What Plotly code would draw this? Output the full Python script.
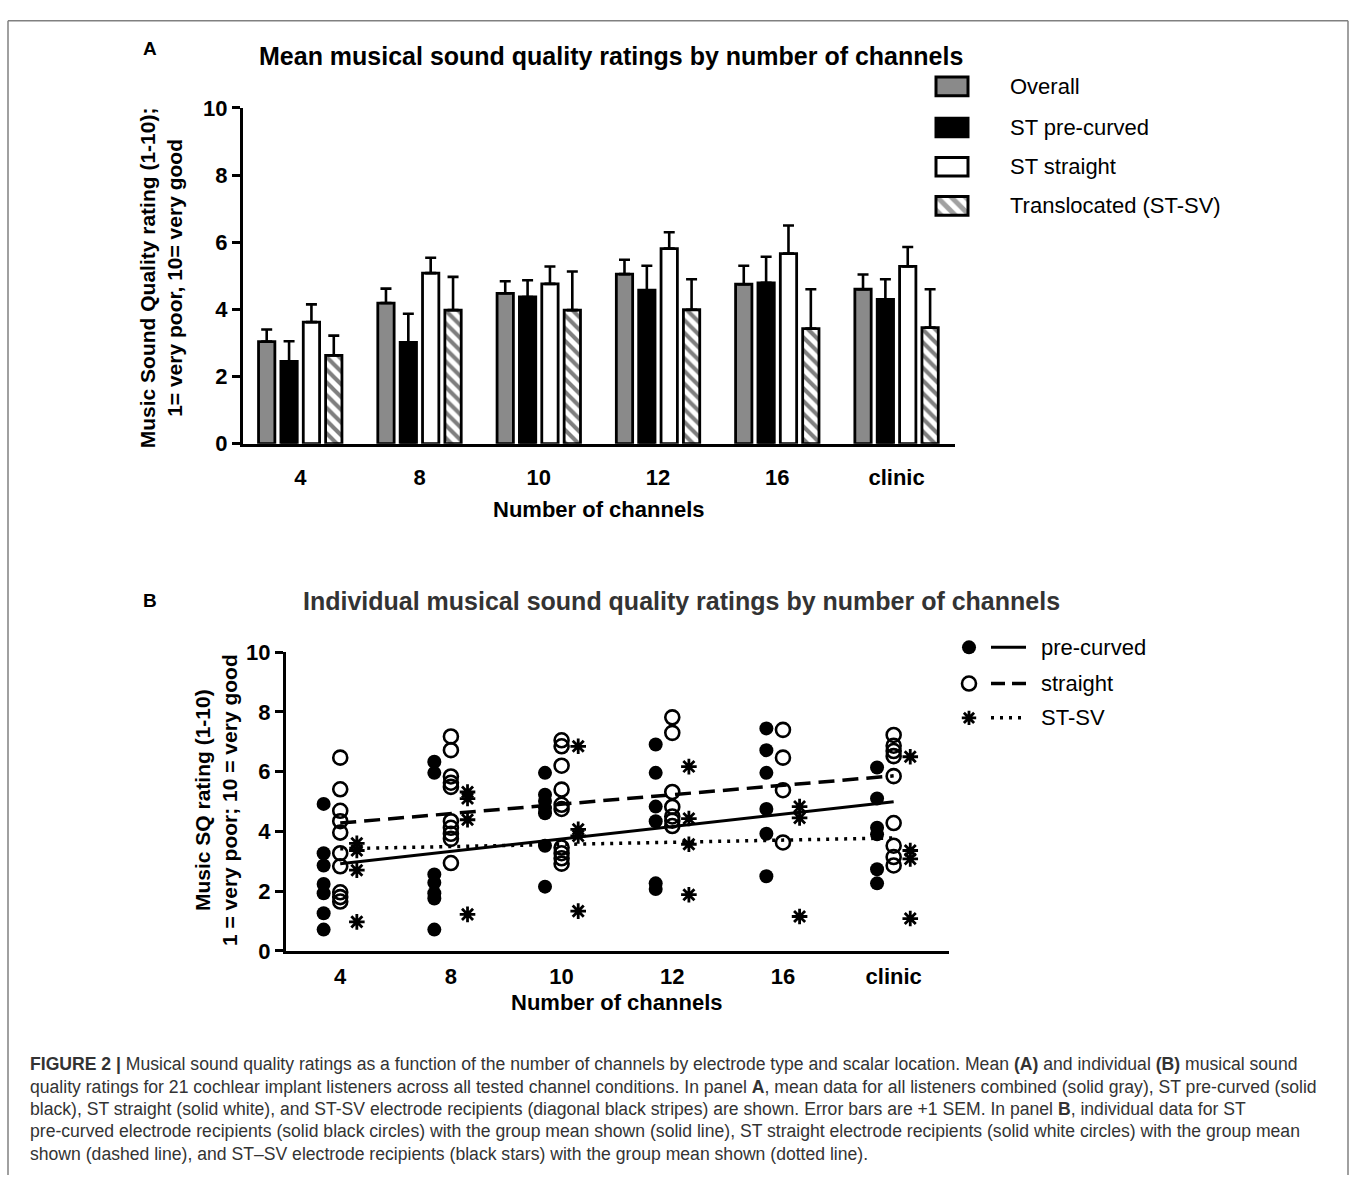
import plotly.graph_objects as go

W, H = 1357, 1188
FONT = "Liberation Sans, Arial, Helvetica, sans-serif"


def px(x):
    return x / W


def py(y):
    return 1 - y / H


# ---------------- data ----------------
categories = ["4", "8", "10", "12", "16", "clinic"]

# Panel A: group means and +1 SEM
overall_mean = [3.04, 4.19, 4.48, 5.05, 4.75, 4.60]
overall_sem = [0.36, 0.43, 0.36, 0.43, 0.55, 0.44]
precurved_mean = [2.45, 3.02, 4.37, 4.57, 4.79, 4.30]
precurved_sem = [0.60, 0.85, 0.50, 0.73, 0.78, 0.60]
straight_mean = [3.62, 5.08, 4.76, 5.81, 5.66, 5.28]
straight_sem = [0.53, 0.46, 0.52, 0.49, 0.84, 0.58]
stsv_mean = [2.63, 3.98, 3.98, 3.99, 3.43, 3.46]
stsv_sem = [0.59, 0.99, 1.15, 0.91, 1.17, 1.14]

# Panel B: individual ratings per channel condition
pre_4 = [4.92, 3.27, 2.86, 2.24, 1.93, 1.26, 0.71]
pre_8 = [6.33, 5.96, 2.56, 2.28, 1.93, 1.75, 0.71]
pre_10 = [5.96, 5.23, 5.02, 4.78, 4.61, 3.52, 2.15]
pre_12 = [6.91, 5.96, 4.83, 4.34, 2.26, 2.07]
pre_16 = [7.45, 6.72, 5.96, 4.75, 3.92, 2.50]
pre_clinic = [6.14, 5.10, 4.12, 3.90, 2.73, 2.26]

str_4 = [6.47, 5.41, 4.69, 4.34, 3.96, 3.27, 2.83, 1.96, 1.80, 1.65]
str_8 = [7.18, 6.72, 5.84, 5.63, 5.49, 4.34, 4.12, 3.92, 3.75, 2.94]
str_10 = [7.05, 6.85, 6.20, 5.40, 4.89, 4.75, 3.46, 3.27, 3.10, 2.92]
str_12 = [7.82, 7.30, 5.32, 4.82, 4.50, 4.36, 4.18]
str_16 = [7.40, 6.47, 5.38, 3.63]
str_clinic = [7.23, 6.87, 6.69, 6.52, 5.85, 4.28, 3.52, 3.14, 2.86]

stsv_4 = [3.60, 3.36, 2.70, 0.97]
stsv_8 = [5.32, 5.10, 4.39, 1.22]
stsv_10 = [6.85, 4.07, 3.85, 1.33]
stsv_12 = [6.17, 4.43, 3.57, 1.88]
stsv_16 = [4.83, 4.45, 1.15]
stsv_clinic = [6.50, 3.36, 3.08, 1.08]

# group-mean fit lines (value at first and last condition)
fit_pre = [2.92, 4.99]
fit_str = [4.28, 5.86]
fit_stsv = [3.42, 3.78]

legend_a_labels = ["Overall", "ST pre-curved", "ST straight", "Translocated (ST-SV)"]
legend_b_labels = ["pre-curved", "straight", "ST-SV"]

# ---------------- figure ----------------
fig = go.Figure()
idx = list(range(len(categories)))

# Panel A bars
bar_styles = [
    (overall_mean, overall_sem, "#8a8a8a", ""),
    (precurved_mean, precurved_sem, "black", ""),
    (straight_mean, straight_sem, "white", ""),
    (stsv_mean, stsv_sem, "white", "\\"),
]
for (m, s, c, pat), name in zip(bar_styles, legend_a_labels):
    marker = dict(color=c, line=dict(color="black", width=2.8))
    if pat:
        marker["pattern"] = dict(shape=pat, fgcolor="black", bgcolor="white",
                                 size=9, solidity=0.45)
    fig.add_trace(go.Bar(
        x=idx, y=m, name=name, xaxis="x", yaxis="y", marker=marker,
        error_y=dict(type="data", symmetric=False, array=s,
                     arrayminus=[0] * len(s), color="black",
                     thickness=2.6, width=5.5),
        showlegend=False, hoverinfo="skip"))

# Panel B scatter
pre_all = [pre_4, pre_8, pre_10, pre_12, pre_16, pre_clinic]
str_all = [str_4, str_8, str_10, str_12, str_16, str_clinic]
stsv_all = [stsv_4, stsv_8, stsv_10, stsv_12, stsv_16, stsv_clinic]


def spread(groups, offset):
    xs, ys = [], []
    for i, g in enumerate(groups):
        for v in g:
            xs.append(i + offset)
            ys.append(v)
    return xs, ys


xp, yp = spread(pre_all, -0.15)
xs_, ys_ = spread(str_all, 0.0)
xv, yv = spread(stsv_all, 0.15)

fig.add_trace(go.Scatter(x=xp, y=yp, mode="markers", xaxis="x2", yaxis="y2",
                         marker=dict(symbol="circle", size=14, color="black"),
                         showlegend=False, hoverinfo="skip"))
fig.add_trace(go.Scatter(x=xs_, y=ys_, mode="markers", xaxis="x2", yaxis="y2",
                         marker=dict(symbol="circle-open", size=14, color="black",
                                     line=dict(width=2.6, color="black")),
                         showlegend=False, hoverinfo="skip"))
fig.add_trace(go.Scatter(x=xv, y=yv, mode="markers", xaxis="x2", yaxis="y2",
                         marker=dict(symbol="asterisk", size=13, color="black",
                                     line=dict(width=2.8, color="black")),
                         showlegend=False, hoverinfo="skip"))

ends = [0, len(categories) - 1]
fig.add_trace(go.Scatter(x=ends, y=fit_pre, mode="lines", xaxis="x2", yaxis="y2",
                         line=dict(color="black", width=3), showlegend=False, hoverinfo="skip"))
fig.add_trace(go.Scatter(x=ends, y=fit_str, mode="lines", xaxis="x2", yaxis="y2",
                         line=dict(color="black", width=3.5, dash="16px,8px"),
                         showlegend=False, hoverinfo="skip"))
fig.add_trace(go.Scatter(x=ends, y=fit_stsv, mode="lines", xaxis="x2", yaxis="y2",
                         line=dict(color="black", width=3.5, dash="3px,6px"),
                         showlegend=False, hoverinfo="skip"))

# ---------- custom legend A (hidden pixel axes x3/y3) ----------
LA_X0, LA_X1, LA_Y0, LA_Y1 = 900, 1260, 50, 220
rows_a = [76, 118, 158, 198]
fig.add_trace(go.Bar(
    y=rows_a, x=[32] * 4, base=936, orientation="h", width=19,
    xaxis="x3", yaxis="y3",
    marker=dict(color=["#8a8a8a", "black", "white", "white"],
                line=dict(color="black", width=3),
                pattern=dict(shape=["", "", "", "\\"], fgcolor="black",
                             bgcolor="white", size=10, solidity=0.5)),
    showlegend=False, hoverinfo="skip"))

# ---------- custom legend B (hidden pixel axes x4/y4) ----------
LB_X0, LB_X1, LB_Y0, LB_Y1 = 950, 1180, 630, 740
rows_b = [649, 686, 721]
mk_x = 969
fig.add_trace(go.Scatter(x=[mk_x], y=[rows_b[0]], mode="markers", xaxis="x4", yaxis="y4",
                         marker=dict(symbol="circle", size=14, color="black"),
                         showlegend=False, hoverinfo="skip"))
fig.add_trace(go.Scatter(x=[mk_x], y=[rows_b[1]], mode="markers", xaxis="x4", yaxis="y4",
                         marker=dict(symbol="circle-open", size=14, color="black",
                                     line=dict(width=2.6, color="black")),
                         showlegend=False, hoverinfo="skip"))
fig.add_trace(go.Scatter(x=[mk_x], y=[rows_b[2]], mode="markers", xaxis="x4", yaxis="y4",
                         marker=dict(symbol="asterisk", size=12, color="black",
                                     line=dict(width=2.8, color="black")),
                         showlegend=False, hoverinfo="skip"))
for r, dash, w in zip(rows_b, ["solid", "14px,7px", "3px,6px"], [3, 3.5, 3.5]):
    fig.add_trace(go.Scatter(x=[991, 1026], y=[r, r], mode="lines", xaxis="x4", yaxis="y4",
                             line=dict(color="black", width=w, dash=dash),
                             showlegend=False, hoverinfo="skip"))

# ---------------- axes ----------------
tickfont = dict(family=FONT, size=22, color="black", weight="bold")
fig.update_layout(
    width=W, height=H, margin=dict(l=0, r=0, t=0, b=0),
    paper_bgcolor="white", plot_bgcolor="rgba(0,0,0,0)",
    barmode="group", bargap=0.25, bargroupgap=0.27,
    font=dict(family=FONT, color="black"),
    xaxis=dict(domain=[px(243), px(955)], range=[-0.48, 5.49], anchor="y",
               tickvals=idx, ticktext=categories, tickfont=tickfont,
               showline=True, linewidth=3, linecolor="black", ticks="",
               ticklabelstandoff=12, showgrid=False, zeroline=False, fixedrange=True),
    yaxis=dict(domain=[py(441), py(98)], range=[0, 10], anchor="x",
               tickvals=[0, 2, 4, 6, 8, 10], tickfont=tickfont,
               showline=True, linewidth=3, linecolor="black",
               ticks="outside", ticklen=8, tickwidth=3, tickcolor="black",
               showgrid=False, zeroline=False, fixedrange=True),
    xaxis2=dict(domain=[px(286), px(949)], range=[-0.49, 5.5], anchor="y2",
                tickvals=idx, ticktext=categories, tickfont=tickfont,
                showline=True, linewidth=3, linecolor="black", ticks="",
                ticklabelstandoff=4, showgrid=False, zeroline=False, fixedrange=True),
    yaxis2=dict(domain=[py(959), py(654)], range=[0, 10], anchor="x2",
                tickvals=[0, 2, 4, 6, 8, 10], tickfont=tickfont,
                showline=True, linewidth=3, linecolor="black",
                ticks="outside", ticklen=8, tickwidth=3, tickcolor="black",
                showgrid=False, zeroline=False, fixedrange=True),
    xaxis3=dict(domain=[px(LA_X0), px(LA_X1)], range=[LA_X0, LA_X1], anchor="y3",
                visible=False, fixedrange=True),
    yaxis3=dict(domain=[py(LA_Y1), py(LA_Y0)], range=[LA_Y1, LA_Y0], anchor="x3",
                visible=False, fixedrange=True),
    xaxis4=dict(domain=[px(LB_X0), px(LB_X1)], range=[LB_X0, LB_X1], anchor="y4",
                visible=False, fixedrange=True),
    yaxis4=dict(domain=[py(LB_Y1), py(LB_Y0)], range=[LB_Y1, LB_Y0], anchor="x4",
                visible=False, fixedrange=True),
)

ann = []


def text(x, y, s, size, bold=False, color="black", xanchor="center", angle=0):
    ann.append(dict(x=px(x), y=py(y), xref="paper", yref="paper", text=s,
                    showarrow=False, xanchor=xanchor, yanchor="middle", textangle=angle,
                    font=dict(family=FONT, size=size, color=color,
                              weight="bold" if bold else "normal")))


# panel labels and titles
text(150, 37, "A", 19, bold=True)
text(611, 45, "Mean musical sound quality ratings by number of channels", 25, bold=True)
text(161, 272, "Music Sound Quality rating (1-10);<br>1= very poor, 10= very good", 21,
     bold=True, angle=-90)
text(598, 508, "Number of channels", 22, bold=True)

text(150, 601, "B", 19, bold=True)
text(681, 602, "Individual musical sound quality ratings by number of channels", 25,
     bold=True, color="#333333")
text(216, 805, "Music SQ rating (1-10)<br>1 = very poor; 10 = very good", 21,
     bold=True, angle=-90)
text(616, 1012, "Number of channels", 22, bold=True)

# legend texts
for r, lab in zip(rows_a, legend_a_labels):
    text(1008, r, lab, 22, xanchor="left")
for r, lab in zip(rows_b, legend_b_labels):
    text(1039, r, lab, 22, xanchor="left")

# caption
caption_lines = [
    "<b>FIGURE 2 |</b> Musical sound quality ratings as a function of the number of channels by electrode type and scalar location. Mean <b>(A)</b> and individual <b>(B)</b> musical sound",
    "quality ratings for 21 cochlear implant listeners across all tested channel conditions. In panel <b>A</b>, mean data for all listeners combined (solid gray), ST pre-curved (solid",
    "black), ST straight (solid white), and ST-SV electrode recipients (diagonal black stripes) are shown. Error bars are +1 SEM. In panel <b>B</b>, individual data for ST",
    "pre-curved electrode recipients (solid black circles) with the group mean shown (solid line), ST straight electrode recipients (solid white circles) with the group mean",
    "shown (dashed line), and ST\u2013SV electrode recipients (black stars) with the group mean shown (dotted line).",
]
for i, line in enumerate(caption_lines):
    text(28, 1075 + i * 22.8, line, 17.6, color="#333333", xanchor="left")

fig.update_layout(annotations=ann)

# figure frame (top, left, right edges)
frame = dict(color="#808080", width=1.5)
fig.add_shape(type="line", xref="paper", yref="paper",
              x0=px(8), x1=px(1348), y0=py(9), y1=py(9), line=frame)
fig.add_shape(type="line", xref="paper", yref="paper",
              x0=px(8), x1=px(8), y0=py(9), y1=0, line=frame)
fig.add_shape(type="line", xref="paper", yref="paper",
              x0=px(1348), x1=px(1348), y0=py(9), y1=0, line=frame)

fig.write_html("out.html",
               config={"displayModeBar": False},
               post_script="document.body.style.margin='0';"
                           "document.documentElement.style.overflow='hidden';")
